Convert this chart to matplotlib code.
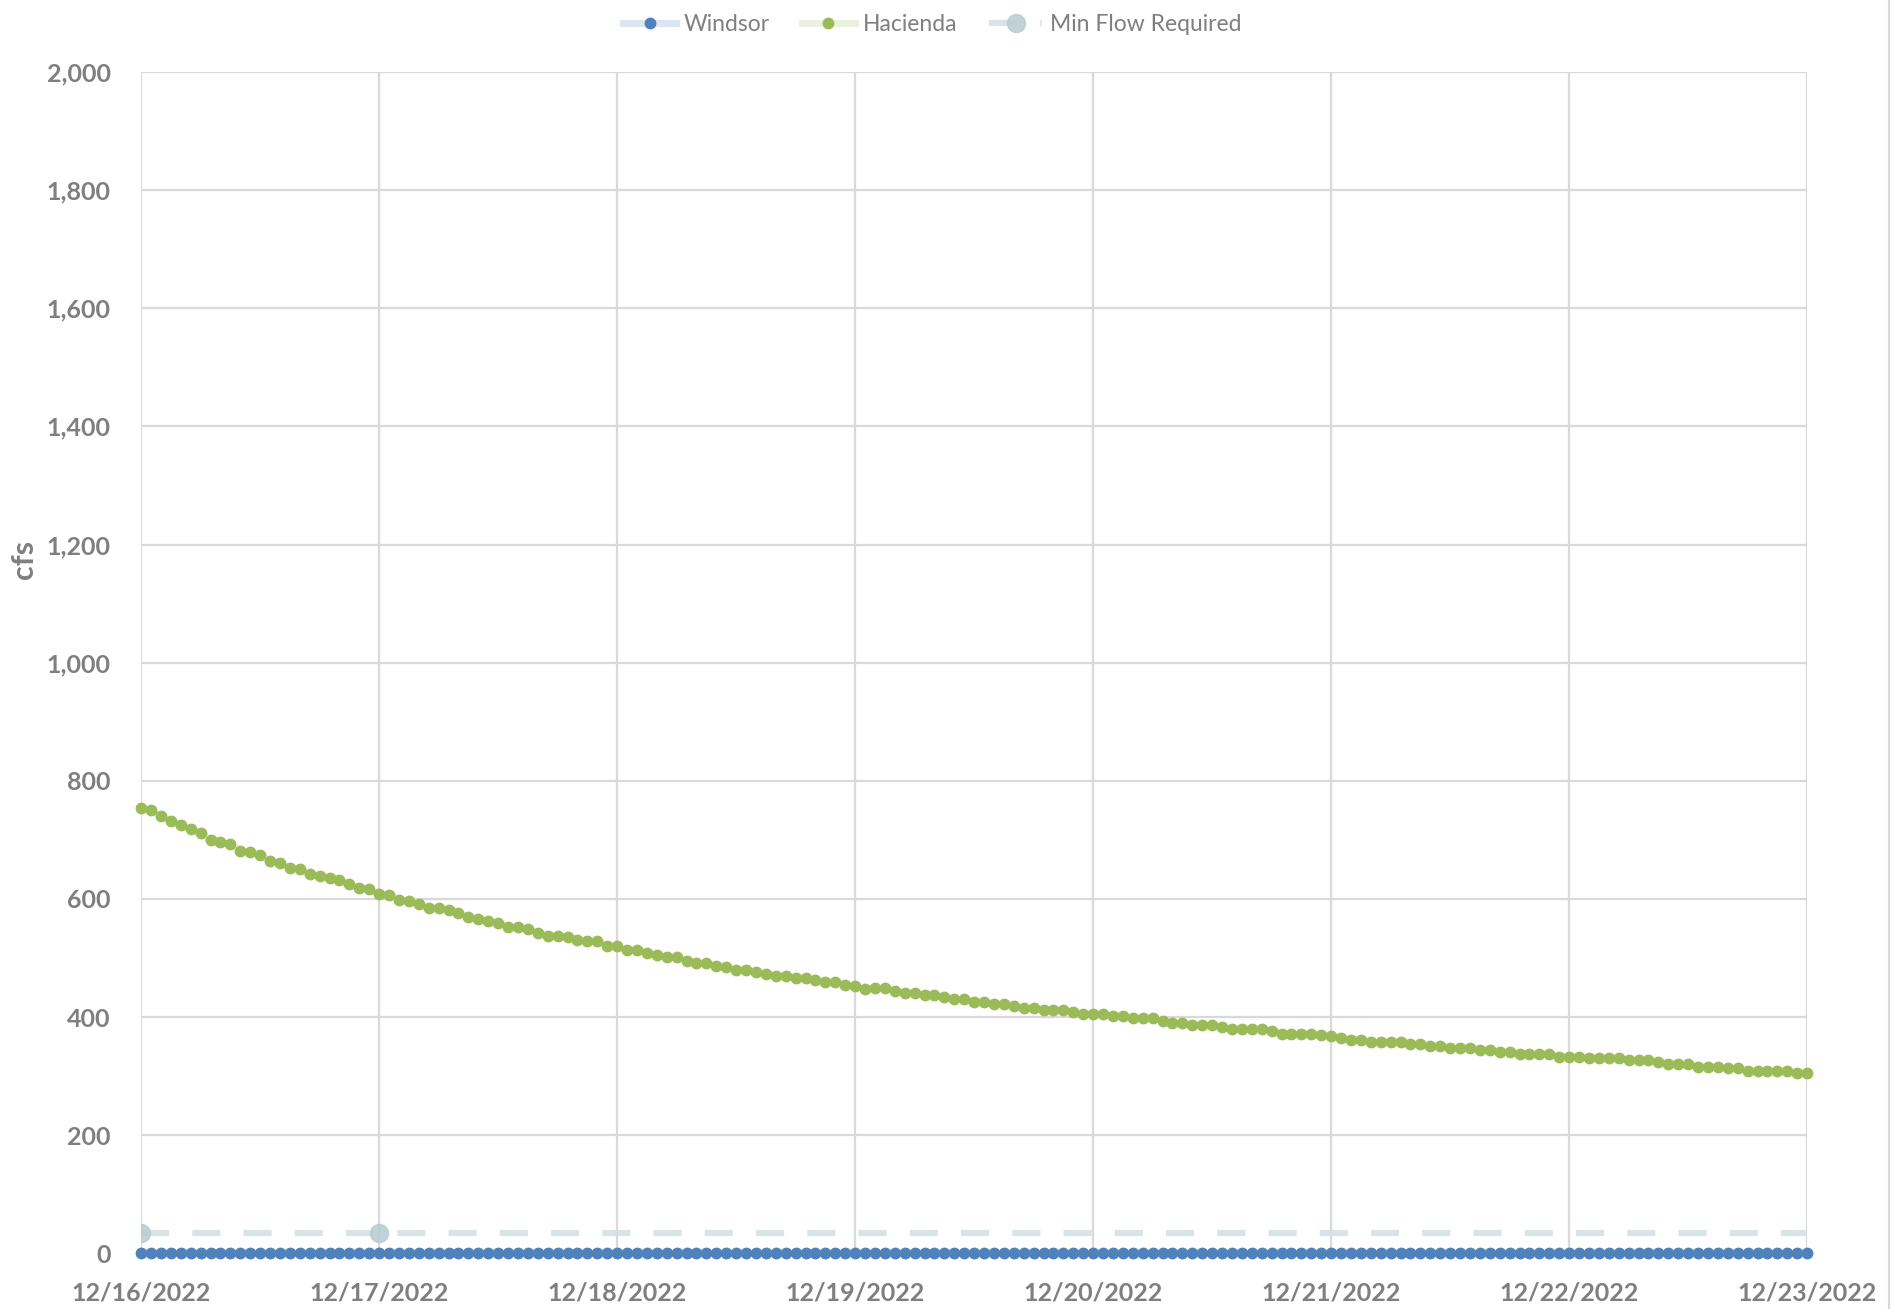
import matplotlib
matplotlib.use('Agg')
import matplotlib.pyplot as plt
import matplotlib.dates as mdates
from matplotlib.ticker import FuncFormatter, MultipleLocator
from matplotlib.lines import Line2D
import pandas as pd

# hourly readings, 12/16/2022 00:00 -> 12/23/2022 00:00
start = "2022-12-16 00:00"

hacienda = [
    754, 750, 740, 732, 725, 718, 711, 700, 696, 693, 682, 679, 675, 664, 661, 653, 650, 642, 639, 635, 632, 625, 618, 617, 609,
    606, 599, 596, 592, 585, 585, 581, 577, 570, 566, 563, 560, 552, 552, 549, 542, 538, 538, 535, 531, 528, 528, 520, 520,
    513, 513, 509, 505, 502, 502, 495, 491, 491, 487, 484, 480, 480, 477, 473, 470, 470, 466, 466, 462, 459, 459, 455, 452,
    448, 449, 449, 445, 441, 441, 437, 437, 434, 430, 430, 426, 426, 423, 423, 419, 415, 415, 412, 412, 412, 409, 405, 405,
    405, 402, 402, 398, 398, 399, 394, 390, 390, 387, 387, 387, 383, 380, 380, 380, 380, 376, 372, 372, 372, 372, 369, 368,
    365, 362, 362, 358, 358, 358, 358, 355, 355, 351, 351, 348, 348, 348, 344, 344, 341, 341, 337, 337, 337, 337, 333, 333,
    333, 331, 331, 331, 331, 327, 327, 327, 324, 320, 320, 320, 316, 316, 316, 313, 313, 309, 309, 309, 309, 309, 305, 305,
]
windsor = [0] * len(hacienda)

# daily minimum flow requirement
min_flow_days = ["2022-12-16", "2022-12-17", "2022-12-18", "2022-12-19",
                 "2022-12-20", "2022-12-21", "2022-12-22", "2022-12-23"]
min_flow = [35, 35, 35, 35, 35, 35, 35, 35]

hours = pd.date_range(start, periods=len(hacienda), freq="h")
days = pd.to_datetime(min_flow_days)

grey = "#7f7f7f"
fig = plt.figure(figsize=(18.99, 13.09), dpi=100)
ax = fig.add_axes([0.0743, 0.0425, 0.8773, 0.9025])

ax.plot(days, min_flow, color="#d3e0e4", lw=4.5, dashes=(4.5, 3.7),
        marker="o", markersize=13, markevery=[0, 1], markerfacecolor="#b9cbd1",
        markeredgecolor="#b9cbd1", alpha=0.85, zorder=3, clip_on=True,
        label="Min Flow Required")
ax.plot(hours, windsor, color="#dce6f2", lw=5, marker="o", markersize=7.5,
        markerfacecolor="#4f81bd", markeredgecolor="#4f81bd", zorder=4,
        clip_on=False, label="Windsor")
ax.plot(hours, hacienda, color="#ebf1de", lw=5, marker="o", markersize=7.5,
        markerfacecolor="#9bbb59", markeredgecolor="#9bbb59", zorder=4,
        clip_on=False, label="Hacienda")

ax.set_xlim(days[0], days[-1])
ax.set_ylim(0, 2000)
ax.yaxis.set_major_locator(MultipleLocator(200))
ax.yaxis.set_major_formatter(FuncFormatter(lambda v, p: f"{int(v):,}"))
ax.xaxis.set_major_locator(mdates.DayLocator())
ax.xaxis.set_major_formatter(mdates.DateFormatter("%m/%d/%Y"))

ax.grid(True, color="#d9d9d9", lw=1.6)
ax.set_axisbelow(True)
for s in ax.spines.values():
    s.set_visible(False)
ax.tick_params(length=0, labelsize=18, labelcolor=grey)
ax.tick_params(axis="y", pad=22)
ax.tick_params(axis="x", pad=20)
for lab in ax.get_xticklabels() + ax.get_yticklabels():
    lab.set_fontfamily("Lato")
    lab.set_fontweight("bold")

ax.set_ylabel("cfs", fontsize=22, color=grey, fontweight="bold", fontfamily="Lato")
ax.yaxis.set_label_coords(-0.062, 0.587)

handles, labels = ax.get_legend_handles_labels()
order = [1, 2, 0]
leg = fig.legend([handles[i] for i in order], [labels[i] for i in order],
                 loc="center", bbox_to_anchor=(0.491, 0.9815), ncol=3, frameon=False,
                 prop={"family": "Lato", "size": 16.5}, handlelength=2.3,
                 columnspacing=1.4, handletextpad=0.35)
for t in leg.get_texts():
    t.set_color(grey)

# chart area edge on the right
fig.add_artist(Line2D([0.9947, 0.9947], [0.0, 1.0], color="#d9d9d9", lw=1.5))

fig.savefig("out.png", dpi=100)
